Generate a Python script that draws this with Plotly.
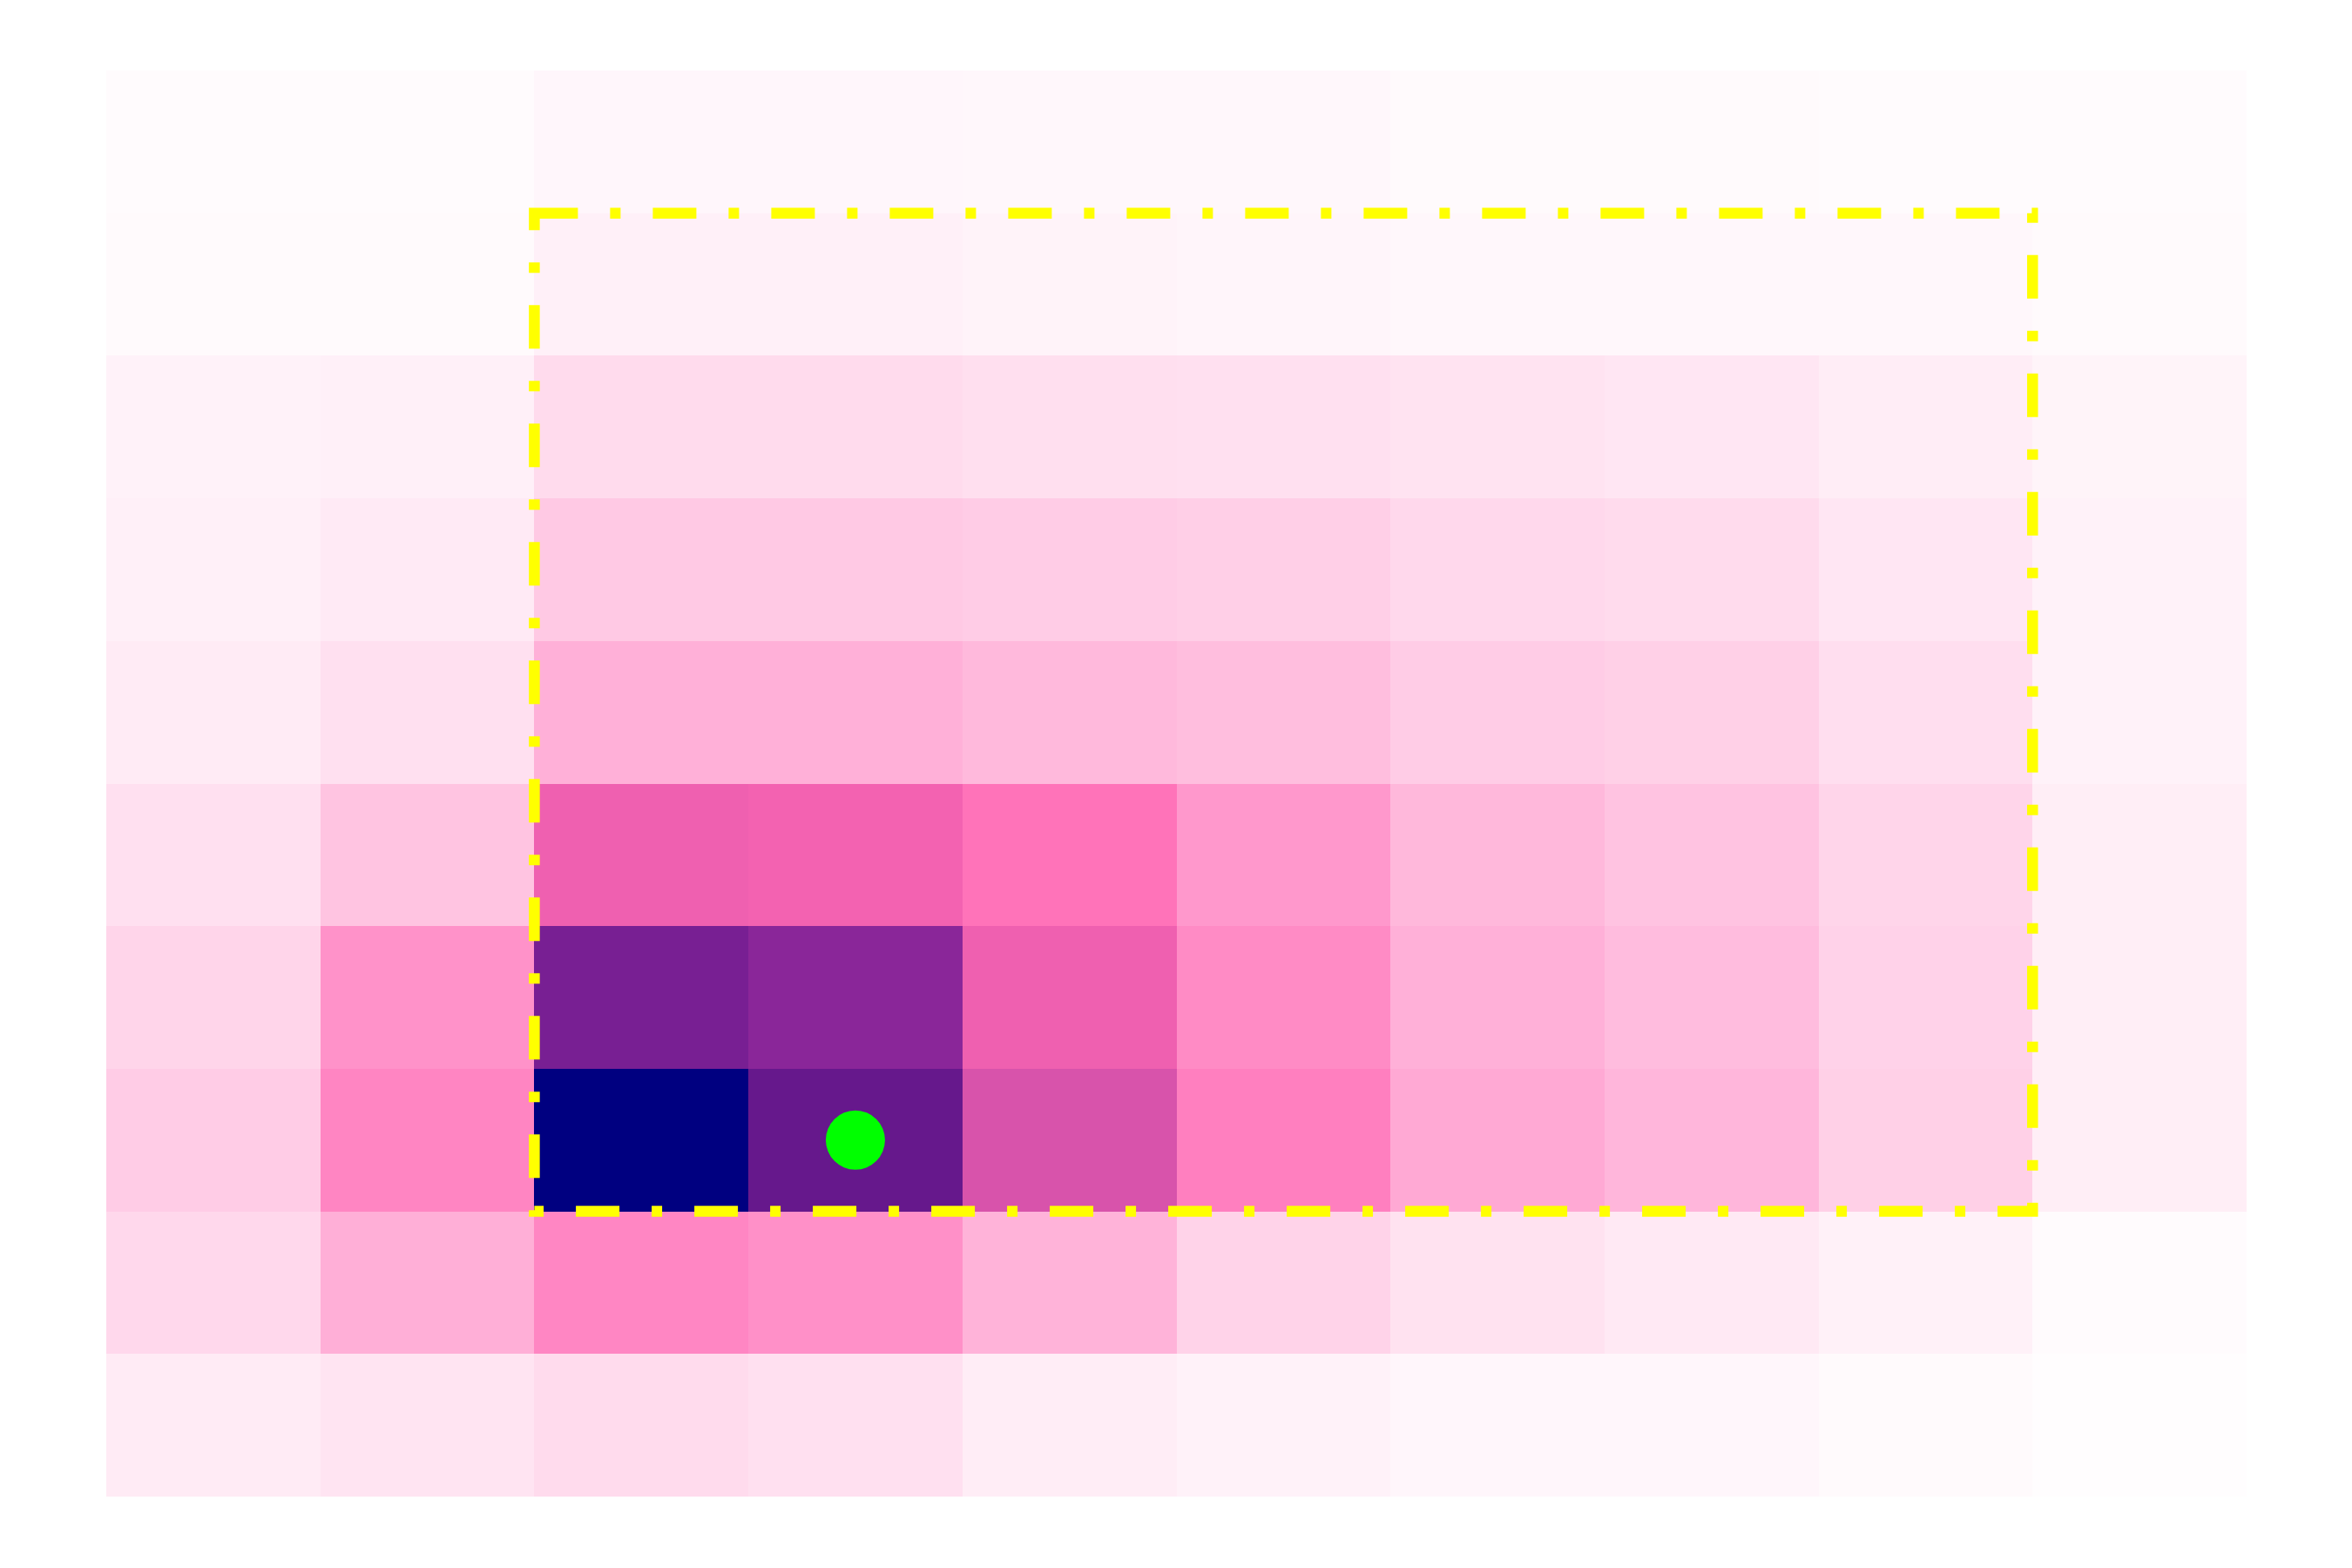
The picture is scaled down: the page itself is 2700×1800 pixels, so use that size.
import plotly.graph_objects as go

# Grid categories
cols = list(range(10))
rows = list(range(10))  # row 0 = top

# Cell values (0-100), listed top row first
z_values = [
    [1.5, 1.5, 3.0, 3.0, 2.8, 2.8, 1.7, 1.7, 1.5, 1.5],
    [1.7, 1.7, 5.0, 5.0, 4.0, 3.3, 2.7, 2.7, 2.7, 1.7],
    [4.3, 5.0, 12.0, 12.0, 10.7, 10.3, 9.3, 8.3, 6.0, 3.7],
    [5.0, 7.0, 18.0, 18.0, 17.0, 16.0, 13.0, 12.0, 8.3, 4.3],
    [6.7, 10.3, 26.3, 26.3, 23.3, 21.7, 17.0, 15.7, 11.0, 4.3],
    [10.3, 19.7, 53.5, 52.5, 46.7, 34.3, 23.7, 20.0, 14.0, 5.7],
    [14.0, 36.3, 82.5, 75.0, 53.5, 38.7, 26.3, 22.3, 15.0, 5.7],
    [17.0, 40.7, 100.0, 90.0, 58.3, 42.7, 28.7, 24.3, 15.7, 5.7],
    [13.0, 26.7, 40.3, 37.0, 25.3, 14.7, 9.7, 7.3, 4.7, 1.3],
    [6.7, 9.0, 12.0, 10.3, 6.0, 4.3, 3.0, 3.0, 1.7, 0.7],
]

# Highlight box (column / row index span) and marked cell
box_cols = [2, 8]
box_rows = [1, 7]
marker_col = [3]
marker_row = [7]

colorscale = [
    [0.0, "#ffffff"],
    [0.5, "#ff69b4"],
    [0.75, "#8a2699"],
    [0.9, "#66188c"],
    [1.0, "#000080"],
]

fig = go.Figure()
fig.add_trace(go.Heatmap(
    z=z_values, x=cols, y=rows,
    colorscale=colorscale, zmin=0, zmax=100,
    showscale=False, hoverinfo="skip",
))
fig.add_trace(go.Scatter(
    x=marker_col, y=marker_row, mode="markers",
    marker=dict(size=68, color="#00ff00", line=dict(width=0)),
    showlegend=False, hoverinfo="skip",
))
fig.add_shape(
    type="rect", xref="x", yref="y",
    x0=box_cols[0] - 0.5, x1=box_cols[1] + 0.5,
    y0=box_rows[0] - 0.5, y1=box_rows[1] + 0.5,
    line=dict(color="#ffff00", width=12.5, dash="50px,37px,12px,37px"),
    fillcolor="rgba(0,0,0,0)",
)
fig.update_xaxes(visible=False, range=[-0.5, 9.5], showgrid=False, zeroline=False)
fig.update_yaxes(visible=False, range=[9.5, -0.5], showgrid=False, zeroline=False)
fig.update_layout(
    width=2700, height=1800,
    margin=dict(l=114, r=129, t=73, b=90),
    paper_bgcolor="white", plot_bgcolor="white",
    showlegend=False,
)
fig.write_html("out.html")
